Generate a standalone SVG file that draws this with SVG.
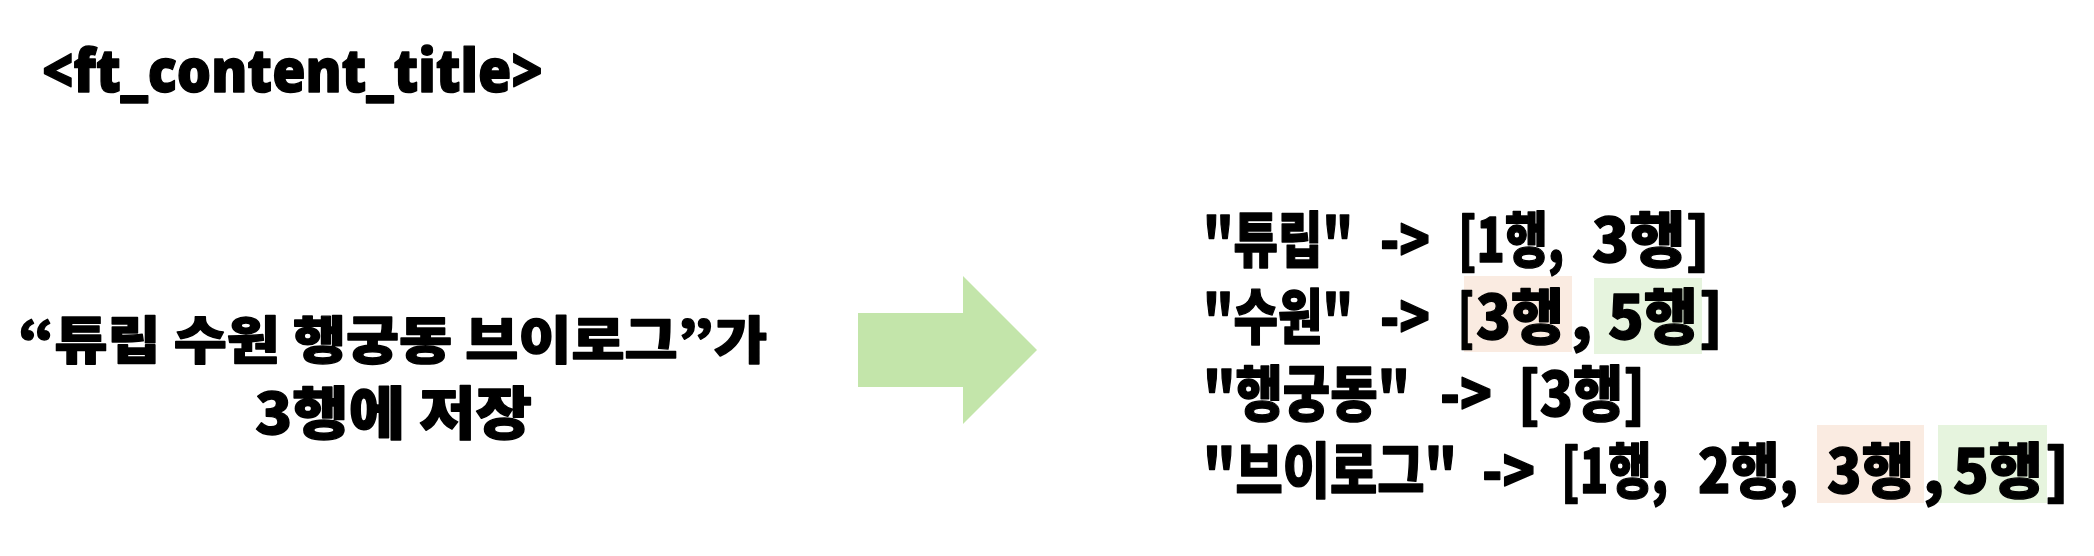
<svg xmlns="http://www.w3.org/2000/svg" width="2094" height="556" viewBox="0 0 2094 556">
<style>
.t{font-family:"Noto Sans CJK KR","Noto Sans",sans-serif;font-weight:900;fill:#000;stroke:#000;stroke-width:1.4px;stroke-linejoin:round}
.lat{font-family:"Noto Sans","Noto Sans CJK KR",sans-serif;font-weight:900;fill:#000;stroke:#000;stroke-width:1.4px;stroke-linejoin:round}
.peach{fill:#FAEBE1}
.green{fill:#E6F4DE}
</style>
<rect width="2094" height="556" fill="#fff"/>
<g id="title">
<text class="lat" x="42" y="92" font-size="60" textLength="501" lengthAdjust="spacingAndGlyphs">&lt;ft_content_title&gt;</text>
</g>
<g id="source">
<text class="t" x="18" y="359" font-size="51" textLength="749" lengthAdjust="spacingAndGlyphs">“튜립 수원 행궁동 브이로그”가</text>
<text class="t" x="255" y="434" font-size="57" textLength="277" lengthAdjust="spacingAndGlyphs">3행에 저장</text>
</g>
<g id="connectors">
<polygon points="858,313 963,313 963,276 1037,350 963,424 963,387 858,387" fill="#C3E5AA"/>
</g>
<g id="index">
<rect class="peach" x="1464" y="276" width="108" height="76"/>
<rect class="green" x="1594" y="278" width="108" height="76"/>
<rect class="peach" x="1817" y="425" width="107" height="78"/>
<rect class="green" x="1938" y="425" width="109" height="78"/>
<text class="t" font-size="60" y="262"><tspan x="1203" textLength="150" lengthAdjust="spacingAndGlyphs">"튜립"</tspan><tspan x="1380" textLength="50" lengthAdjust="spacingAndGlyphs">-&gt;</tspan><tspan x="1458" textLength="106" lengthAdjust="spacingAndGlyphs">[1행,</tspan><tspan x="1592" textLength="118" lengthAdjust="spacingAndGlyphs">3행]</tspan></text>
<text class="t" font-size="60" y="339"><tspan x="1203" textLength="150" lengthAdjust="spacingAndGlyphs">"수원"</tspan><tspan x="1380" textLength="50" lengthAdjust="spacingAndGlyphs">-&gt;</tspan><tspan x="1458" textLength="16" lengthAdjust="spacingAndGlyphs">[</tspan><tspan x="1476" textLength="88" lengthAdjust="spacingAndGlyphs">3행</tspan><tspan x="1571">,</tspan><tspan x="1608" textLength="90" lengthAdjust="spacingAndGlyphs">5행</tspan><tspan x="1699">]</tspan></text>
<text class="t" font-size="60" y="416"><tspan x="1203" textLength="207" lengthAdjust="spacingAndGlyphs">"행궁동"</tspan><tspan x="1440" textLength="52" lengthAdjust="spacingAndGlyphs">-&gt;</tspan><tspan x="1518" textLength="127" lengthAdjust="spacingAndGlyphs">[3행]</tspan></text>
<text class="t" font-size="60" y="493"><tspan x="1203" textLength="254" lengthAdjust="spacingAndGlyphs">"브이로그"</tspan><tspan x="1482" textLength="53" lengthAdjust="spacingAndGlyphs">-&gt;</tspan><tspan x="1561" textLength="107" lengthAdjust="spacingAndGlyphs">[1행,</tspan><tspan x="1698" textLength="100" lengthAdjust="spacingAndGlyphs">2행,</tspan><tspan x="1827" textLength="87" lengthAdjust="spacingAndGlyphs">3행</tspan><tspan x="1923">,</tspan><tspan x="1953" textLength="90" lengthAdjust="spacingAndGlyphs">5행</tspan><tspan x="2045">]</tspan></text>
</g>
</svg>
